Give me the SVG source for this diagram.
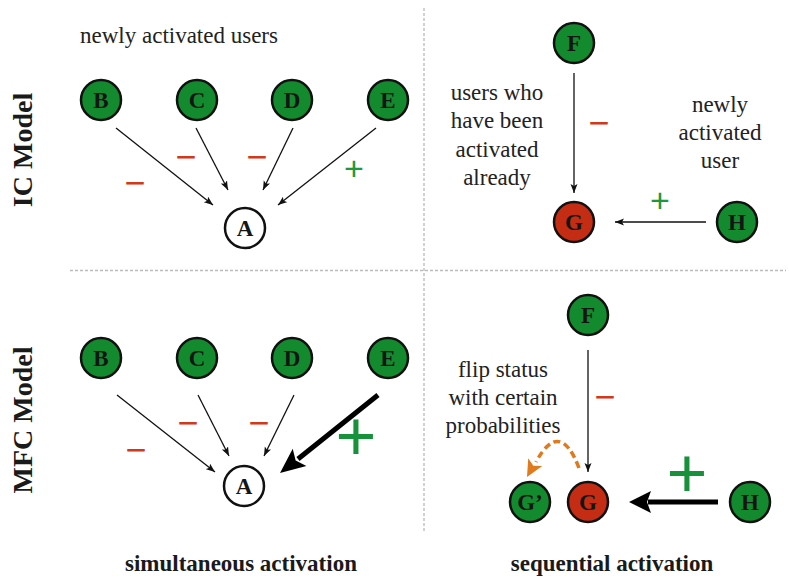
<svg xmlns="http://www.w3.org/2000/svg" width="789" height="579" viewBox="0 0 789 579">
<style>
.node circle{stroke:#111;stroke-width:2.5}
.g{fill:#138a2e}
.r{fill:#c42d13}
.w{fill:#fff}
.node text{font-family:"Liberation Serif",serif;font-weight:bold;font-size:23px;fill:#151515;text-anchor:middle}
.lbl{font-family:"Liberation Serif",serif;font-size:23px;fill:#222;text-anchor:middle}
.title{font-family:"Liberation Serif",serif;font-weight:bold;font-size:23px;fill:#1a1a1a;text-anchor:middle}
.side{font-family:"Liberation Serif",serif;font-weight:bold;font-size:28px;fill:#1a1a1a;text-anchor:middle}
.minus{font-family:"Liberation Sans",sans-serif;font-size:36px;fill:#d2381c;text-anchor:middle}
.plus{font-family:"Liberation Sans",sans-serif;font-size:34px;fill:#1a9a3a;text-anchor:middle}
.bigplus{font-family:"Liberation Sans",sans-serif;font-size:70px;fill:#17913a;text-anchor:middle}
.thin{stroke:#111;stroke-width:1.3;fill:none;marker-end:url(#ah)}
.thick{stroke:#000;stroke-width:5;fill:none}
.div{stroke:#bbb;stroke-width:1.3;stroke-dasharray:3 2;fill:none}
</style>
<defs>
<marker id="ah" markerUnits="userSpaceOnUse" markerWidth="10" markerHeight="8" refX="9" refY="3.5" orient="auto">
<path d="M0,0 L9,3.5 L0,7 L2,3.5 Z" fill="#111"/>
</marker>
</defs>

<g id="dividers">
<line class="div" x1="424" y1="8" x2="424" y2="533"/>
<line class="div" x1="70" y1="270.5" x2="786" y2="270.5"/>
</g>

<g id="labels">
<text class="lbl" x="80" y="43" style="text-anchor:start">newly activated users</text>
<text class="lbl" x="497" y="100">users who</text>
<text class="lbl" x="497" y="128">have been</text>
<text class="lbl" x="497" y="157">activated</text>
<text class="lbl" x="497" y="185">already</text>
<text class="lbl" x="720" y="112">newly</text>
<text class="lbl" x="720" y="140">activated</text>
<text class="lbl" x="720" y="168">user</text>
<text class="lbl" x="503" y="377">flip status</text>
<text class="lbl" x="503" y="405">with certain</text>
<text class="lbl" x="503" y="433">probabilities</text>
<text class="title" x="241" y="571">simultaneous activation</text>
<text class="title" x="612" y="571">sequential activation</text>
<text class="side" transform="translate(32,150) rotate(-90)">IC Model</text>
<text class="side" transform="translate(32,420) rotate(-90)">MFC Model</text>
</g>

<g id="connectors">
<line class="thin" x1="116" y1="128" x2="213" y2="205"/>
<line class="thin" x1="196" y1="128" x2="228" y2="190"/>
<line class="thin" x1="293" y1="128" x2="263" y2="190"/>
<line class="thin" x1="376" y1="128" x2="278" y2="205"/>
<line class="thin" x1="574" y1="73" x2="574" y2="193"/>
<line class="thin" x1="706" y1="222" x2="615" y2="222"/>
<line class="thin" x1="117" y1="395" x2="215" y2="472"/>
<line class="thin" x1="198" y1="395" x2="229" y2="456"/>
<line class="thin" x1="294" y1="395" x2="264" y2="456"/>
<line class="thick" x1="378" y1="395" x2="298" y2="459"/>
<polygon points="0,0 -25,-11 -20,0 -25,11" fill="#000" transform="translate(280,473) rotate(141.5)"/>
<line class="thin" x1="588" y1="350" x2="588" y2="472"/>
<line class="thick" x1="718" y1="502" x2="648" y2="502"/>
<polygon points="0,0 -22,-11 -18,0 -22,11" fill="#000" transform="translate(629,502) rotate(180)"/>
<path d="M579,468 Q560,418 536,462" stroke="#e07a1c" stroke-width="3.5" stroke-dasharray="7 4" fill="none"/>
<polygon points="0,0 -17,-8 -13,0 -17,8" fill="#e07a1c" transform="translate(527,477) rotate(119)"/>
<text class="minus" x="135" y="194.5">−</text>
<text class="minus" x="186" y="168.5">−</text>
<text class="minus" x="257" y="168.5">−</text>
<text class="plus" x="354" y="180">+</text>
<text class="minus" x="599" y="134.5">−</text>
<text class="plus" x="660" y="212">+</text>
<text class="minus" x="136" y="461.5">−</text>
<text class="minus" x="188" y="434.5">−</text>
<text class="minus" x="259" y="434.5">−</text>
<text class="bigplus" x="356" y="460">+</text>
<text class="minus" x="605" y="408.5">−</text>
<text class="bigplus" x="687" y="497">+</text>
</g>

<g id="ic-B" class="node"><circle class="g" cx="101" cy="100" r="20"/><text x="101" y="108">B</text></g>
<g id="ic-C" class="node"><circle class="g" cx="197" cy="100" r="20"/><text x="197" y="108">C</text></g>
<g id="ic-D" class="node"><circle class="g" cx="292" cy="100" r="20"/><text x="292" y="108">D</text></g>
<g id="ic-E" class="node"><circle class="g" cx="388" cy="100" r="20"/><text x="388" y="108">E</text></g>
<g id="ic-A" class="node"><circle class="w" cx="245" cy="228" r="20"/><text x="245" y="236">A</text></g>
<g id="ic-F" class="node"><circle class="g" cx="574" cy="43" r="20"/><text x="574" y="51">F</text></g>
<g id="ic-G" class="node"><circle class="r" cx="574" cy="222" r="20"/><text x="574" y="230">G</text></g>
<g id="ic-H" class="node"><circle class="g" cx="737" cy="222" r="20"/><text x="737" y="230">H</text></g>

<g id="mfc-B" class="node"><circle class="g" cx="101" cy="358" r="20"/><text x="101" y="366">B</text></g>
<g id="mfc-C" class="node"><circle class="g" cx="197" cy="358" r="20"/><text x="197" y="366">C</text></g>
<g id="mfc-D" class="node"><circle class="g" cx="292" cy="358" r="20"/><text x="292" y="366">D</text></g>
<g id="mfc-E" class="node"><circle class="g" cx="388" cy="358" r="20"/><text x="388" y="366">E</text></g>
<g id="mfc-A" class="node"><circle class="w" cx="244" cy="486" r="20"/><text x="244" y="494">A</text></g>
<g id="mfc-F" class="node"><circle class="g" cx="588" cy="315" r="20"/><text x="588" y="323">F</text></g>
<g id="mfc-G2" class="node"><circle class="g" cx="530" cy="502" r="20"/><text x="530" y="510">G’</text></g>
<g id="mfc-G" class="node"><circle class="r" cx="588" cy="502" r="20"/><text x="588" y="510">G</text></g>
<g id="mfc-H" class="node"><circle class="g" cx="750" cy="502" r="20"/><text x="750" y="510">H</text></g>
</svg>
